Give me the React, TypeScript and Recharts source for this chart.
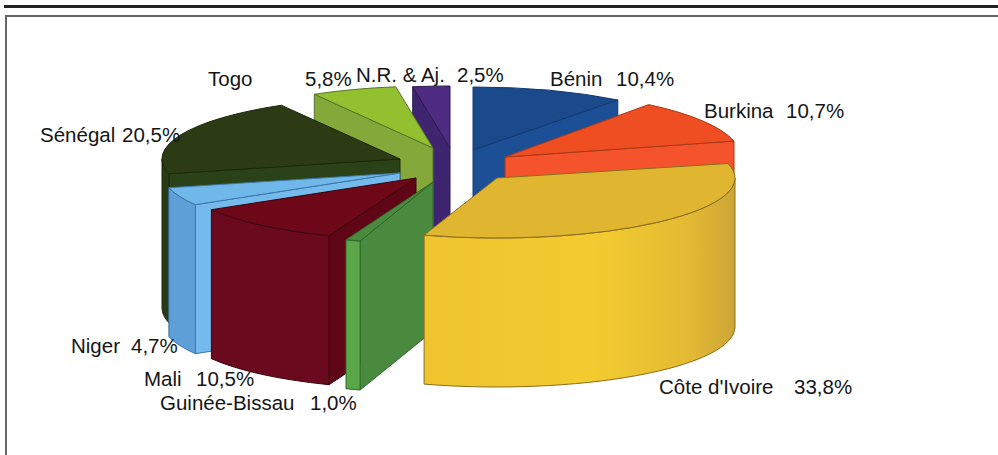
import { PieChart, Pie } from "recharts"

const countries = ["Bénin", "Burkina", "Côte d'Ivoire", "Guinée-Bissau", "Mali", "Niger", "Sénégal", "Togo", "N.R. & Aj."]
const shares = [10.4, 10.7, 33.8, 1.0, 10.5, 4.7, 20.5, 5.8, 2.5]

// colours per slice: top face, cut face, outer wall
const topColors = ["#1A4A8C", "#EE4E22", "#E0B530", "#4A8A3E", "#6E0818", "#70B8EA", "#2D3B15", "#93C02F", "#4E2C82"]
const cutColors = ["#1D4F96", "#F4532B", "#F0C62F", "#4A8A3E", "#5E0615", "#74BAEC", "#2B4218", "#84A83A", "#3F2570"]
const wallColors = ["#1D4F96", "#F4532B", "url(#ivoireWall)", "#5AA648", "#6B0A1E", "#5E9FD8", "#2A3A14", "#84A83A", "#3F2570"]
const edgeColors = ["#123A70", "#A83A18", "#8A6E20", "#2F6A2C", "#3E0410", "#3E78A8", "#1C280C", "#55752A", "#2C1A50"]

// explosion of each slice, relative to the pie centre
const shiftX = [23, 55, 47, -17, -34, -50, -50, -17, 0]
const shiftY = [-10, -3, 18, 22, 18, 13, -1, -12, -12]
const radiusX = [238, 236, 238, 238, 238, 238, 238, 238, 238]
const radiusY = [63, 66, 60, 62, 62, 62, 62, 62, 62]
const DEPTH = 149

// painted back to front
const paintOrder = [8, 0, 7, 1, 6, 5, 4, 3, 2]

// name x, value x, baseline
const labelSpots = [
	[550, 616, 86],
	[704, 786, 118],
	[659, 794, 394],
	[160, 310, 410],
	[144, 196, 386],
	[71, 131, 353],
	[40, 122, 142],
	[208, 305, 86],
	[356, 457, 82],
]

const data = countries.map((name, i) => ({ name, value: shares[i] }))

const cosDeg = (a: number) => Math.cos((a * Math.PI) / 180)

const sliceShape = (only: number) => (props: any) => {
	const { name, cx, cy, startAngle, endAngle, outerRadius } = props
	const i = countries.indexOf(name)
	if (i !== only) return <g />

	const rx = (radiusX[i] / 238) * outerRadius
	const ry = radiusY[i]
	const ax = cx + shiftX[i]
	const ay = cy + shiftY[i]
	const pt = (a: number, down = 0) => {
		const r = (a * Math.PI) / 180
		return `${ax + rx * Math.cos(r)} ${ay - ry * Math.sin(r) + down}`
	}
	const arc = (from: number, to: number, down = 0) => {
		const large = Math.abs(from - to) > 180 ? 1 : 0
		const sweep = from > to ? 1 : 0
		return `A ${rx} ${ry} 0 ${large} ${sweep} ${pt(to, down)}`
	}
	const apex = `${ax} ${ay}`
	const apexLow = `${ax} ${ay + DEPTH}`
	const edge = { stroke: edgeColors[i], strokeWidth: 1, strokeLinejoin: "round" as const }

	// only the front half of the rim can be seen
	const rimFrom = Math.min(startAngle, 0)
	const rimTo = Math.max(endAngle, -180)
	const hasRim = rimFrom > rimTo

	return (
		<g>
			{cosDeg(startAngle) < -0.001 && (
				<path d={`M ${apex} L ${pt(startAngle)} L ${pt(startAngle, DEPTH)} L ${apexLow} Z`} fill={cutColors[i]} {...edge} />
			)}
			{cosDeg(endAngle) > 0.001 && (
				<path d={`M ${apex} L ${pt(endAngle)} L ${pt(endAngle, DEPTH)} L ${apexLow} Z`} fill={cutColors[i]} {...edge} />
			)}
			{hasRim && (
				<path
					d={`M ${pt(rimFrom)} ${arc(rimFrom, rimTo)} L ${pt(rimTo, DEPTH)} ${arc(rimTo, rimFrom, DEPTH)} Z`}
					fill={wallColors[i]}
					{...edge}
				/>
			)}
			<path d={`M ${apex} L ${pt(startAngle)} ${arc(startAngle, endAngle)} Z`} fill={topColors[i]} {...edge} />
		</g>
	)
}

const renderLabel = (props: any) => {
	const i = countries.indexOf(props.name)
	const [nameX, valueX, y] = labelSpots[i]
	return (
		<text key={i} y={y} fontFamily="'Liberation Sans', Arial, sans-serif" fontSize={20.5} fill="#151515">
			<tspan x={nameX}>{countries[i]}</tspan>
			<tspan x={valueX}>{shares[i].toFixed(1).replace(".", ",")}%</tspan>
		</text>
	)
}

const pieProps = {
	data,
	dataKey: "value",
	nameKey: "name",
	cx: 450,
	cy: 160,
	innerRadius: 0,
	outerRadius: 238,
	startAngle: 90,
	endAngle: -270,
	paddingAngle: 0,
	isAnimationActive: false,
}

const App = () => {
	return (
		<div style={{ position: "absolute", left: 0, top: 0, width: 998, height: 455, overflow: "hidden", background: "#fff" }}>
			<div style={{ position: "absolute", left: 4, top: 5, width: 994, height: 3, background: "#222" }} />
			<div style={{ position: "absolute", left: 6, top: 15, width: 992, height: 2, background: "#666" }} />
			<div style={{ position: "absolute", left: 5, top: 15, width: 2, height: 440, background: "#666" }} />
			<div style={{ position: "absolute", left: 0, top: 0 }}>
				<PieChart width={998} height={455} margin={{ top: 0, right: 0, bottom: 0, left: 0 }}>
					<defs>
						<linearGradient id="ivoireWall" x1="0" y1="0" x2="1" y2="0">
							<stop offset="0" stopColor="#EFC42E" />
							<stop offset="0.55" stopColor="#F3CB30" />
							<stop offset="0.85" stopColor="#E3BA33" />
							<stop offset="1" stopColor="#CDA536" />
						</linearGradient>
					</defs>
					{paintOrder.map((i) => (
						<Pie key={i} {...pieProps} shape={sliceShape(i)} label={false} labelLine={false} />
					))}
					<Pie {...pieProps} shape={() => <g />} label={renderLabel} labelLine={false} />
				</PieChart>
			</div>
		</div>
	)
}

export default App
